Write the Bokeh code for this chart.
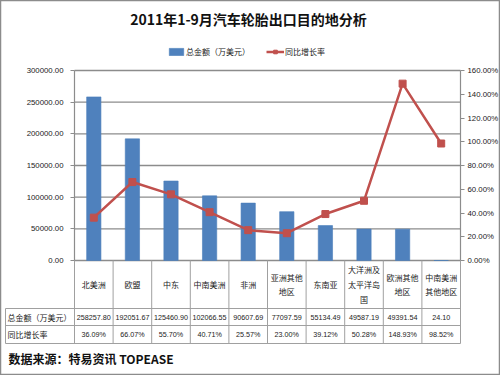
from bokeh.plotting import figure
from bokeh.models import (Range1d, LinearAxis, FixedTicker, NumeralTickFormatter,
                          PrintfTickFormatter, ColumnDataSource, Legend, LegendItem)
from bokeh.embed import file_html
from bokeh.resources import INLINE
from bokeh.core.properties import value

# ---------------- data ----------------
title_text = "2011年1-9月汽车轮胎出口目的地分析"
categories = ["北美洲", "欧盟", "中东", "中南美洲", "非洲", "亚洲其他地区", "东南亚",
              "大洋洲及太平洋岛国", "欧洲其他地区", "中南美洲其他地区"]
category_labels = ["北美洲", "欧盟", "中东", "中南美洲", "非洲", "亚洲其他\n地区", "东南亚",
                   "大洋洲及\n太平洋岛\n国", "欧洲其他\n地区", "中南美洲\n其他地区"]
totals = [258257.80, 192051.67, 125460.90, 102066.55, 90607.69, 77097.59, 55134.49,
          49587.19, 49391.54, 24.10]
growth = [36.09, 66.07, 55.70, 40.71, 25.57, 23.00, 39.12, 50.28, 148.93, 98.52]
series_total = "总金额（万美元）"
series_growth = "同比增长率"
left_ticks = [0, 50000, 100000, 150000, 200000, 250000, 300000]
right_ticks = [0, 20, 40, 60, 80, 100, 120, 140, 160]
source_note = "数据来源：特易资讯 TOPEASE"

# ---------------- layout (pixels of the 500x375 canvas) ----------------
W, H = 500, 375
FL, FR, FT, FB = 74, 460, 70, 260          # plot-area edges in px
n = len(categories)
band = (FR - FL) / n
ymax = left_ticks[-1]
pmax = right_ticks[-1]


def px_x(px):
    return (px - FL) / band


def px_y(py):
    return (FB - py) * ymax / (FB - FT)


def px_p(py):
    return (FB - py) * pmax / (FB - FT)


CJK = "Noto Sans CJK SC"
NUM = "Liberation Sans"
GRID = "#8c8c8c"
TAB = "#a0a0a0"
TXT = "#222222"

p = figure(width=W, height=H, x_range=Range1d(px_x(0), px_x(W)),
           y_range=Range1d(px_y(H), px_y(0)),
           output_backend="svg", toolbar_location=None, min_border=0,
           background_fill_color="white", border_fill_color="white",
           outline_line_color="#8c8c8c", outline_line_width=1.5)
p.extra_y_ranges = {"pct": Range1d(px_p(H), px_p(0))}

p.xaxis.visible = False
p.grid.visible = False

ya = p.yaxis[0]
ya.fixed_location = 0
ya.bounds = (0, ymax)
ya.ticker = FixedTicker(ticks=left_ticks)
ya.formatter = NumeralTickFormatter(format="0.00")

ra = LinearAxis(y_range_name="pct", ticker=FixedTicker(ticks=right_ticks),
                formatter=PrintfTickFormatter(format="%.2f%%"),
                fixed_location=n, bounds=(0, pmax))
p.add_layout(ra, "right")
for ax in (ya, ra):
    ax.axis_line_color = GRID
    ax.axis_line_width = 1.2
    ax.major_tick_line_color = GRID
    ax.major_tick_in = 0
    ax.major_tick_out = 4
    ax.minor_tick_line_color = None
    ax.major_label_text_font = NUM
    ax.major_label_text_font_size = "7.8px"
    ax.major_label_text_color = TXT
ya.major_label_standoff = 7
ra.major_label_standoff = 3

# horizontal gridlines at the left-axis ticks, across the plot area only
p.segment(x0=[0] * len(left_ticks), x1=[n] * len(left_ticks), y0=left_ticks, y1=left_ticks,
          line_color=GRID, line_width=1.3)

xs = [i + 0.5 for i in range(n)]
src = ColumnDataSource(dict(
    x=xs, cat=categories, label=category_labels, total=totals, growth=growth,
    total_text=[f"{v:.2f}" for v in totals],
    growth_text=[f"{g:.2f}%" for g in growth],
))

bars = p.vbar(x="x", top="total", width=0.37, source=src,
              fill_color="#4F81BD", line_color="#4A7EBB", line_width=0.6)
ln = p.line(x="x", y="growth", source=src, y_range_name="pct",
            line_color="#C0504D", line_width=2.5)
pts = p.scatter(x="x", y="growth", source=src, y_range_name="pct", marker="square",
                size=7, fill_color="#C0504D", line_color="#C0504D")

legend = Legend(items=[LegendItem(label=series_total, renderers=[bars]),
                       LegendItem(label=series_growth, renderers=[ln, pts])],
                orientation="horizontal", location=(167, H - 57),
                label_text_font=CJK, label_text_font_size="8px", label_text_color=TXT,
                glyph_width=18, glyph_height=9, spacing=16, label_standoff=1,
                border_line_color=None, background_fill_alpha=0, margin=0, padding=1)
p.add_layout(legend, "center")

# ---------------- data table under the plot ----------------
y_r1, y_r2, y_r3 = px_y(308), px_y(325), px_y(343)
x_left = px_x(5)
x0, y0, x1, y1 = [], [], [], []
for i in range(n + 1):
    x0.append(i); y0.append(0); x1.append(i); y1.append(y_r3)
for yy in (y_r1, y_r2, y_r3):
    x0.append(x_left); y0.append(yy); x1.append(n); y1.append(yy)
x0.append(x_left); y0.append(y_r1); x1.append(x_left); y1.append(y_r3)
p.segment(x0=x0, y0=y0, x1=x1, y1=y1, line_color=TAB, line_width=1)

p.text(x="x", y=px_y(284), text="label", source=src, text_align="center",
       text_baseline="middle", text_font=value(CJK), text_font_size="8px",
       text_color=TXT, text_line_height=1.35)
p.text(x="x", y=px_y(316.5), text="total_text", source=src, text_align="center",
       text_baseline="middle", text_font=value(NUM), text_font_size="7.2px", text_color=TXT)
p.text(x="x", y=px_y(334), text="growth_text", source=src, text_align="center",
       text_baseline="middle", text_font=value(NUM), text_font_size="7.2px", text_color=TXT)
p.text(x=[px_x(7)] * 2, y=[px_y(316.5), px_y(334)], text=[series_total, series_growth],
       text_align="left", text_baseline="middle", text_font=value(CJK),
       text_font_size="8px", text_color=TXT)

# title and source note
p.text(x=[px_x(248)], y=[px_y(18)], text=[title_text], text_align="center",
       text_baseline="middle", text_font=value(CJK), text_font_size="14px",
       text_font_style="bold", text_color="#111111")
p.text(x=[px_x(8)], y=[px_y(358)], text=[source_note], text_align="left",
       text_baseline="middle", text_font=value(CJK), text_font_size="12px",
       text_font_style="bold", text_color="#111111")

open("out.html", "w").write(file_html(p, INLINE))
